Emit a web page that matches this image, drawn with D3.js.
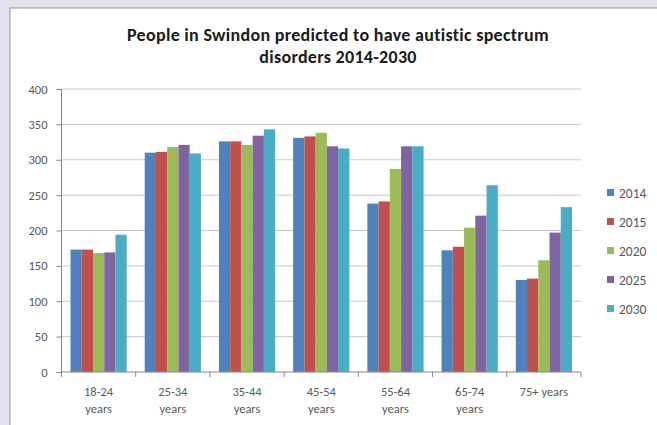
<!DOCTYPE html>
<html><head><meta charset="utf-8">
<script src="https://cdn.jsdelivr.net/npm/d3@7"></script>
<style>
html,body{margin:0;padding:0;background:#e4dfec;}
svg{display:block;}
</style></head>
<body>
<svg id="c" width="657" height="425"></svg>
<script>
const categories = ["18-24 years","25-34 years","35-44 years","45-54 years","55-64 years","65-74 years","75+ years"];
const seriesNames = ["2014","2015","2020","2025","2030"];
const v2014 = [173, 310, 326, 331, 238, 172, 130];
const v2015 = [173, 311, 326, 333, 241, 177, 132];
const v2020 = [168, 318, 321, 338, 287, 204, 158];
const v2025 = [169, 321, 334, 319, 319, 221, 197];
const v2030 = [194, 309, 343, 316, 319, 264, 233];
const yTicks = [0,50,100,150,200,250,300,350,400];
const titleLines = ["People in Swindon predicted to have autistic spectrum","disorders 2014-2030"];
const colors = ["#4f81bd","#c0504d","#9bbb59","#8064a2","#4bacc6"];

const seriesValues = [v2014, v2015, v2020, v2025, v2030];
const svg = d3.select("#c");
const font = "Carlito, Lato, 'Open Sans', sans-serif";

// chart area panel
svg.append("rect").attr("x",10).attr("y",8).attr("width",660).attr("height",430)
  .attr("fill","#ffffff").attr("stroke","#a5a5a5").attr("stroke-width",1.2);

const pLeft = 61.5, pRight = 581, pTop = 89, pBottom = 372;
const x0 = d3.scaleBand().domain(categories).range([pLeft,pRight]).padding(0);
const x1 = d3.scaleBand().domain(seriesNames).range([9, x0.bandwidth()-9]).padding(0);
const y = d3.scaleLinear().domain([0,400]).range([pBottom, pTop]);

// gridlines
svg.append("g").selectAll("line").data(yTicks.filter(d=>d>0)).join("line")
  .attr("x1",pLeft).attr("x2",pRight).attr("y1",d=>y(d)).attr("y2",d=>y(d))
  .attr("stroke","#c8c8c8").attr("stroke-width",1);

// bars
const data = [];
categories.forEach((c,i)=>seriesNames.forEach((s,j)=>data.push({c,s,j,v:seriesValues[j][i]})));
svg.append("g").selectAll("rect").data(data).join("rect")
  .attr("x",d=>x0(d.c)+x1(d.s)).attr("width",x1.bandwidth())
  .attr("y",d=>y(d.v)).attr("height",d=>pBottom-y(d.v))
  .attr("fill",d=>colors[d.j]);

// y axis
const yAxis = d3.axisLeft(y).tickValues(yTicks).tickSize(5).tickPadding(9);
const gy = svg.append("g").attr("transform",`translate(${pLeft},0)`).call(yAxis);
gy.select(".domain").attr("stroke","#868686").attr("d",`M0,${pTop}V${pBottom}`);
gy.selectAll(".tick line").attr("stroke","#868686");
gy.selectAll("text").attr("fill","#595959").style("font-family",font).style("font-size","12.5px");

// x axis
const xAxis = d3.axisBottom(x0).tickSize(0).tickFormat("");
const gx = svg.append("g").attr("transform",`translate(0,${pBottom})`).call(xAxis);
gx.select(".domain").attr("stroke","#868686").attr("d",`M${pLeft},0H${pRight}`);
// category ticks at boundaries
svg.append("g").selectAll("line").data(categories.concat(["end"])).join("line")
  .attr("x1",(d,i)=>pLeft+i*x0.bandwidth()).attr("x2",(d,i)=>pLeft+i*x0.bandwidth())
  .attr("y1",pBottom).attr("y2",pBottom+5).attr("stroke","#868686");

// x labels
const xl = svg.append("g").selectAll("text").data(categories).join("text")
  .attr("x",d=>x0(d)+x0.bandwidth()/2).attr("y",pBottom+24)
  .attr("text-anchor","middle").attr("fill","#595959")
  .style("font-family",font).style("font-size","12.5px");
xl.each(function(d){
  const m = d.match(/^(\d+-\d+) (years)$/);
  const t = d3.select(this);
  if(m){
    t.append("tspan").attr("x",t.attr("x")).text(m[1]);
    t.append("tspan").attr("x",t.attr("x")).attr("dy",17).text(m[2]);
  } else t.text(d);
});

// title
svg.append("g").selectAll("text").data(titleLines).join("text")
  .attr("x",338).attr("y",(d,i)=>41+i*22).attr("text-anchor","middle")
  .attr("fill","#1a1a1a").style("font-family",font).style("font-weight","bold")
  .style("font-size","18px").style("letter-spacing","0.3px").text(d=>d);

// legend
const lg = svg.append("g").selectAll("g").data(seriesNames).join("g")
  .attr("transform",(d,i)=>`translate(607,${193+i*29})`);
lg.append("rect").attr("x",0).attr("y",-4).attr("width",7).attr("height",7).attr("fill",(d,i)=>colors[i]);
lg.append("text").attr("x",12).attr("y",4.5).attr("fill","#595959")
  .style("font-family",font).style("font-size","13.5px").text(d=>d);
</script>
</body></html>
